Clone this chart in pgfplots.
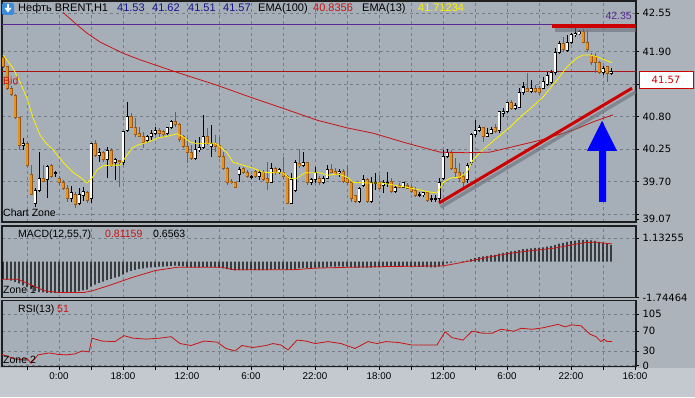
\documentclass[border=0pt]{standalone}
\usepackage{pgfplots}
\pgfplotsset{compat=1.18}
\usepackage{pgfplotstable}
\usepackage{fontspec}
\setmainfont{Liberation Sans}
\newfontfamily\dvs{DejaVu Sans}
\definecolor{chartbg}{RGB}{166,174,183}
\definecolor{outerbg}{RGB}{172,179,187}
\definecolor{botbg}{RGB}{196,201,207}
\definecolor{gridc}{RGB}{116,124,134}
\definecolor{framec}{RGB}{30,30,30}
\definecolor{candleor}{RGB}{228,146,38}
\definecolor{candleorline}{RGB}{150,86,22}
\definecolor{emared}{RGB}{200,20,20}
\definecolor{bidred}{RGB}{170,20,20}
\definecolor{hilinec}{RGB}{90,40,150}
\definecolor{trendred}{RGB}{204,0,0}
\definecolor{navytxt}{RGB}{20,20,140}
\definecolor{shadowc}{RGB}{105,111,120}
\newcommand\lbl{\dvs\fontsize{10}{12}\selectfont}
\newcommand\tlbl{\fontsize{9.8}{11}\selectfont}

\pgfplotstableread[row sep=\\]{
b o h l c\\
-9 40.32 40.44 40.24 40.34\\
-6 39.34 39.59 39.27 39.56\\
-5 39.56 40.20 39.53 39.76\\
-3 39.73 39.98 39.42 39.95\\
-1 39.85 39.88 39.78 39.85\\
3 39.42 39.63 39.36 39.51\\
5 39.34 39.59 39.31 39.48\\
6 39.46 39.61 39.37 39.53\\
8 39.41 40.35 39.34 40.35\\
10 40.15 40.27 40.03 40.20\\
12 40.08 40.29 39.76 40.22\\
14 40.02 40.10 39.73 40.07\\
16 40.02 40.56 39.98 40.54\\
17 40.56 41.05 40.54 40.81\\
22 40.39 40.49 40.35 40.46\\
23 40.47 40.57 40.40 40.52\\
24 40.52 40.62 40.49 40.56\\
27 40.51 40.62 40.49 40.61\\
28 40.61 40.74 40.59 40.71\\
34 40.10 40.40 40.07 40.25\\
35 40.25 40.46 40.20 40.27\\
36 40.27 40.83 40.25 40.46\\
38 40.30 40.66 40.12 40.35\\
45 39.83 39.95 39.69 39.90\\
48 39.78 39.81 39.75 39.78\\
50 39.78 39.90 39.73 39.86\\
53 39.69 40.02 39.68 39.93\\
55 39.85 39.93 39.83 39.90\\
58 39.34 39.85 39.34 39.73\\
59 39.56 40.07 39.53 40.02\\
61 39.98 40.20 39.95 40.02\\
63 39.68 39.76 39.64 39.73\\
64 39.73 39.95 39.68 39.85\\
66 39.68 39.80 39.66 39.76\\
67 39.76 39.98 39.75 39.90\\
70 39.85 39.92 39.78 39.88\\
75 39.36 39.61 39.34 39.59\\
76 39.64 39.81 39.61 39.73\\
78 39.36 39.78 39.34 39.69\\
79 39.68 39.85 39.56 39.68\\
81 39.64 39.73 39.51 39.68\\
82 39.68 39.86 39.61 39.69\\
84 39.53 39.64 39.51 39.61\\
86 39.61 39.69 39.59 39.68\\
90 39.48 39.53 39.44 39.48\\
91 39.48 39.53 39.44 39.51\\
93 39.41 39.48 39.36 39.41\\
94 39.41 39.48 39.36 39.41\\
95 39.41 39.76 39.36 39.69\\
96 39.76 40.24 39.73 40.12\\
97 40.12 40.25 40.10 40.20\\
102 39.73 40.02 39.68 39.98\\
103 40.02 40.52 39.98 40.49\\
104 40.49 40.74 40.46 40.57\\
105 40.56 40.66 40.54 40.61\\
107 40.47 40.61 40.46 40.52\\
108 40.52 40.62 40.51 40.59\\
110 40.57 40.88 40.52 40.88\\
111 40.86 40.94 40.79 40.88\\
112 40.88 41.05 40.86 41.03\\
114 40.94 41.03 40.91 40.98\\
115 40.96 41.28 40.94 41.20\\
116 41.20 41.38 41.16 41.30\\
118 41.23 41.42 41.20 41.28\\
121 41.28 41.47 41.27 41.40\\
122 41.35 41.55 41.32 41.49\\
123 41.38 41.59 41.35 41.55\\
124 41.54 41.96 41.50 41.89\\
125 41.89 42.08 41.86 42.04\\
127 41.91 42.18 41.89 42.06\\
128 42.06 42.21 42.03 42.18\\
129 42.18 42.30 42.14 42.21\\
130 42.21 42.26 42.18 42.23\\
136 41.55 41.65 41.50 41.62\\
138 41.53 41.62 41.51 41.57\\
}\upC

\pgfplotstableread[row sep=\\]{
b o h l c\\
-14 41.79 41.84 41.62 41.64\\
-13 41.64 41.65 41.25 41.28\\
-12 41.28 41.32 41.15 41.18\\
-11 41.16 41.18 40.76 40.78\\
-10 40.78 40.79 40.24 40.32\\
-8 40.35 40.37 39.95 39.98\\
-7 39.83 39.98 39.48 39.49\\
-4 39.76 39.98 39.69 39.71\\
-2 39.97 40.00 39.76 39.78\\
0 39.76 39.80 39.64 39.68\\
1 39.69 39.73 39.56 39.59\\
2 39.59 39.64 39.36 39.41\\
4 39.49 39.53 39.26 39.32\\
7 39.51 39.54 39.34 39.39\\
9 40.35 40.40 40.12 40.15\\
11 40.19 40.22 40.03 40.07\\
13 40.22 40.27 39.95 39.97\\
15 40.05 40.07 39.61 40.02\\
18 40.81 40.86 40.61 40.62\\
19 40.62 40.78 40.46 40.49\\
20 40.51 40.62 40.46 40.47\\
21 40.46 40.54 40.27 40.37\\
25 40.56 40.61 40.46 40.51\\
26 40.54 40.57 40.46 40.49\\
29 40.71 40.88 40.62 40.66\\
30 40.66 40.69 40.37 40.42\\
31 40.46 40.49 40.27 40.30\\
32 40.30 40.44 40.02 40.19\\
33 40.20 40.32 40.07 40.10\\
37 40.46 40.61 40.32 40.35\\
39 40.35 40.49 40.20 40.29\\
40 40.32 40.46 40.10 40.12\\
41 40.12 40.20 39.90 39.92\\
42 39.92 39.95 39.64 39.69\\
43 39.71 39.75 39.66 39.68\\
44 39.68 39.69 39.59 39.61\\
46 39.92 39.95 39.83 39.86\\
47 39.86 39.90 39.76 39.78\\
49 39.88 39.90 39.76 39.78\\
51 39.86 39.90 39.71 39.73\\
52 39.75 40.03 39.56 39.69\\
54 39.93 39.95 39.81 39.85\\
56 39.85 40.12 39.75 39.78\\
57 39.78 39.81 39.34 39.34\\
60 40.00 40.25 39.93 39.98\\
62 40.02 40.03 39.64 39.68\\
65 39.76 39.80 39.64 39.68\\
68 39.90 40.00 39.85 39.86\\
69 39.88 39.93 39.81 39.83\\
71 39.88 39.92 39.68 39.71\\
72 39.75 39.98 39.64 39.68\\
73 39.68 39.73 39.36 39.42\\
74 39.46 39.48 39.34 39.36\\
77 39.73 39.76 39.34 39.36\\
80 39.68 39.81 39.56 39.59\\
83 39.71 39.76 39.51 39.53\\
85 39.64 39.68 39.59 39.61\\
87 39.64 39.68 39.58 39.59\\
88 39.61 39.64 39.51 39.53\\
89 39.56 39.61 39.44 39.46\\
92 39.51 39.53 39.36 39.39\\
98 40.19 40.24 39.90 39.93\\
99 39.93 40.10 39.78 39.85\\
100 39.85 40.02 39.69 39.76\\
101 39.78 39.86 39.61 39.69\\
106 40.61 40.62 40.37 40.47\\
109 40.62 40.67 40.52 40.54\\
113 41.03 41.08 40.91 40.94\\
117 41.28 41.54 41.22 41.23\\
119 41.28 41.33 41.20 41.22\\
120 41.27 41.32 41.16 41.20\\
126 42.04 42.14 41.89 41.94\\
131 42.23 42.28 42.04 42.06\\
132 42.06 42.26 41.89 41.93\\
133 41.84 41.87 41.67 41.72\\
134 41.82 41.87 41.54 41.71\\
135 41.71 41.74 41.52 41.55\\
137 41.64 41.65 41.38 41.52\\
}\dnC

\pgfplotsset{
  panel/.style={
    scale only axis, width=634pt,
    xmin=-14.25, xmax=144.25,
    axis background/.style={fill=chartbg},
    axis line style={draw=framec, line width=1.2pt},
    grid style={draw=gridc, line width=0.5pt, dash pattern=on 3pt off 3pt},
    xtick={-8,0,...,136}, xticklabels={},
    xmajorgrids, ymajorgrids,
    xtick style={draw=none},
    ytick pos=right, yticklabel pos=right,
    tick align=outside, major tick length=3pt,
    ytick style={draw=black, line width=0.6pt},
    yticklabel style={font=\lbl, anchor=west, text=black},
    extra y tick style={grid=none},
  },
}

\begin{document}
\begin{tikzpicture}
\useasboundingbox (0,0) rectangle (695pt,397pt);
\fill[outerbg] (0,0) rectangle (695pt,397pt);
\fill[botbg] (0,0) rectangle (695pt,29pt);

% ---------------- main price panel ----------------
\begin{axis}[panel, at={(2pt,175pt)}, anchor=south west, height=221pt,
  ymin=39.0196, ymax=42.7527,
  ytick={39.15,39.70,40.25,40.80,41.35,41.90,42.55},
  yticklabels={,39.70,40.25,40.80,,41.90,42.55},
  extra y ticks={39.07}, extra y tick labels={39.07},
]
\addplot[draw=hilinec, line width=0.8pt] coordinates {(-14.25,42.35) (144.25,42.35)};
\addplot[draw=bidred, line width=0.8pt] coordinates {(-14.25,41.57) (144.25,41.57)};
% wicks
\addplot[draw=none, error bars/.cd, y dir=both, y explicit, error mark=none,
  error bar style={draw=black, line width=1pt}]
  table[x=b, y expr={(\thisrow{h}+\thisrow{l})/2}, y error expr={(\thisrow{h}-\thisrow{l})/2}] {\upC};
\addplot[draw=none, error bars/.cd, y dir=both, y explicit, error mark=none,
  error bar style={draw=candleorline, line width=1pt}]
  table[x=b, y expr={(\thisrow{h}+\thisrow{l})/2}, y error expr={(\thisrow{h}-\thisrow{l})/2}] {\dnC};
% bodies: outline then fill
\addplot[draw=none, error bars/.cd, y dir=both, y explicit, error mark=none,
  error bar style={draw=black, line width=3pt}]
  table[x=b, y expr={(\thisrow{o}+\thisrow{c})/2}, y error expr={abs(\thisrow{c}-\thisrow{o})/2+0.0085}] {\upC};
\addplot[draw=none, error bars/.cd, y dir=both, y explicit, error mark=none,
  error bar style={draw=white, line width=1.3pt}]
  table[x=b, y expr={(\thisrow{o}+\thisrow{c})/2}, y error expr={max(abs(\thisrow{c}-\thisrow{o})/2-0.0085,0)}] {\upC};
\addplot[draw=none, error bars/.cd, y dir=both, y explicit, error mark=none,
  error bar style={draw=candleorline, line width=3pt}]
  table[x=b, y expr={(\thisrow{o}+\thisrow{c})/2}, y error expr={abs(\thisrow{c}-\thisrow{o})/2+0.0085}] {\dnC};
\addplot[draw=none, error bars/.cd, y dir=both, y explicit, error mark=none,
  error bar style={draw=candleor, line width=1.6pt}]
  table[x=b, y expr={(\thisrow{o}+\thisrow{c})/2}, y error expr={max(abs(\thisrow{c}-\thisrow{o})/2-0.0085,0)}] {\dnC};
% EMA(13)
\addplot[draw=yellow, line width=0.8pt] coordinates {
(-14,41.84) (-11.5,41.62) (-9.75,41.38) (-8,41.11) (-6.5,40.78) (-4.75,40.49) (-3.5,40.37) (-1.5,40.24) (1,40.03) (3.5,39.86) (5.25,39.78) (7,39.68) (8.25,39.76) (9.5,39.90) (11,39.97) (13,39.98) (15.25,39.98) (16.5,40.10) (18.25,40.27) (19.75,40.32) (22.25,40.37) (24.75,40.44) (27.25,40.47) (29.5,40.51) (31,40.46) (32.75,40.37) (34.75,40.34) (36.5,40.35) (39,40.35) (39.75,40.32) (42,40.19) (43.5,40.03) (46,39.98) (48.5,39.93) (51,39.86) (54.5,39.85) (56,39.85) (57.75,39.75) (59.5,39.76) (61.5,39.85) (65.25,39.85) (67.25,39.81) (69.75,39.83) (72,39.78) (73.5,39.69) (76.5,39.68) (80.75,39.68) (84.75,39.63) (89,39.58) (92.25,39.53) (94.5,39.51) (96,39.68) (97.75,39.76) (100.25,39.78) (102,39.86) (103.5,40.07) (106,40.24) (109.5,40.44) (112.75,40.62) (115.25,40.79) (117.75,40.93) (121,41.13) (124.5,41.42) (127,41.64) (129.5,41.79) (131,41.84) (132.75,41.84) (134.5,41.81) (136,41.77) (138.25,41.71)};
% EMA(100)
\addplot[draw=emared, line width=0.8pt] coordinates {
(1,42.56) (4.5,42.35) (7,42.21) (10.25,42.06) (16,41.87) (20.25,41.76) (28.5,41.57) (39.5,41.33) (47.75,41.13) (56,40.94) (64.5,40.74) (72,40.61) (78.5,40.52) (87,40.35) (95.25,40.20) (102,40.19) (107.75,40.20) (115.25,40.32) (120.25,40.40) (128.5,40.57) (133.5,40.71) (138.5,40.83)};
% trend line with shadow
\addplot[draw=shadowc, opacity=0.6, line width=3.5pt] coordinates {(95.4,39.27) (144.25,41.22)};
\addplot[draw=trendred, line width=3pt] coordinates {(95,39.34) (143.25,41.28)};
% resistance line with shadow
\addplot[draw=shadowc, opacity=0.6, line width=4pt] coordinates {(124,42.26) (144.25,42.26)};
\addplot[draw=trendred, line width=4pt] coordinates {(123.25,42.33) (144.25,42.33)};
% blue arrow
\addplot[fill=blue, draw=none] coordinates {(135,39.36) (135,40.22) (132,40.22) (135.75,40.73) (139.5,40.22) (136.75,40.22) (136.75,39.36)};
\end{axis}

% ---------------- MACD panel ----------------
\begin{axis}[panel, at={(2pt,99.5pt)}, anchor=south west, height=71.5pt,
  ymin=-1.74464, ymax=1.726,
  ytick={1.13255}, yticklabels={1.13255},
  extra y ticks={-1.74464}, extra y tick labels={-1.74464},
]
\addplot[ybar, bar width=1.2pt, fill=black, draw=none] coordinates {
(-14,-0.85) (-13,-0.88) (-12,-0.92) (-11,-0.98) (-10,-1.06) (-9,-1.15) (-8,-1.24) (-7,-1.34) (-6,-1.43) (-5,-1.48) (-4,-1.50) (-3,-1.52) (-2,-1.52) (-1,-1.52) (0,-1.51) (1,-1.50) (2,-1.50) (3,-1.48) (4,-1.47) (5,-1.44) (6,-1.40) (7,-1.36) (8,-1.22) (9,-1.12) (10,-1.04) (11,-0.97) (12,-0.90) (13,-0.84) (14,-0.78) (15,-0.73) (16,-0.64) (17,-0.52) (18,-0.45) (19,-0.40) (20,-0.36) (21,-0.33) (22,-0.30) (23,-0.28) (24,-0.26) (25,-0.25) (26,-0.24) (27,-0.23) (28,-0.21) (29,-0.20) (30,-0.21) (31,-0.23) (32,-0.26) (33,-0.28) (34,-0.28) (35,-0.28) (36,-0.26) (37,-0.26) (38,-0.27) (39,-0.28) (40,-0.30) (41,-0.33) (42,-0.37) (43,-0.40) (44,-0.43) (45,-0.42) (46,-0.42) (47,-0.42) (48,-0.42) (49,-0.41) (50,-0.41) (51,-0.41) (52,-0.41) (53,-0.39) (54,-0.38) (55,-0.37) (56,-0.37) (57,-0.40) (58,-0.40) (59,-0.36) (60,-0.33) (61,-0.31) (62,-0.31) (63,-0.31) (64,-0.30) (65,-0.30) (66,-0.29) (67,-0.27) (68,-0.25) (69,-0.24) (70,-0.23) (71,-0.24) (72,-0.25) (73,-0.28) (74,-0.30) (75,-0.30) (76,-0.29) (77,-0.30) (78,-0.29) (79,-0.28) (80,-0.27) (81,-0.26) (82,-0.25) (83,-0.25) (84,-0.25) (85,-0.24) (86,-0.24) (87,-0.24) (88,-0.24) (89,-0.25) (90,-0.26) (91,-0.26) (92,-0.27) (93,-0.28) (94,-0.28) (95,-0.24) (96,-0.16) (97,-0.09) (98,-0.05) (99,-0.02) (100,0.00) (101,0.02) (102,0.05) (103,0.12) (104,0.18) (105,0.22) (106,0.25) (107,0.28) (108,0.31) (109,0.33) (110,0.38) (111,0.42) (112,0.46) (113,0.49) (114,0.52) (115,0.56) (116,0.60) (117,0.62) (118,0.64) (119,0.66) (120,0.67) (121,0.69) (122,0.72) (123,0.75) (124,0.81) (125,0.87) (126,0.91) (127,0.95) (128,0.99) (129,1.02) (130,1.04) (131,1.05) (132,1.05) (133,1.03) (134,1.00) (135,0.96) (136,0.92) (137,0.87) (138,0.81)};
\addplot[draw=emared, line width=0.8pt] coordinates {
(-14.2,-0.86) (-10.3,-0.86) (-7,-1.13) (-3.7,-1.41) (-0.3,-1.50) (6.3,-1.50) (8.5,-1.41) (13,-1.13) (18.5,-0.76) (24,-0.44) (29.5,-0.28) (40.7,-0.28) (44,-0.40) (58.4,-0.40) (64,-0.32) (71.7,-0.28) (82.8,-0.24) (96,-0.21) (98.3,-0.13) (102.7,0.03) (107.2,0.21) (112.7,0.40) (118.2,0.53) (123.8,0.65) (128.2,0.81) (131.5,0.92) (134.3,0.94) (136.5,0.89) (138.2,0.86)};
\end{axis}

% ---------------- RSI panel ----------------
\begin{axis}[panel, at={(2pt,30.5pt)}, anchor=south west, height=66pt,
  ymin=-1.6, ymax=132.4,
  ytick={0,30,70,105}, yticklabels={0,30,70,105},
  xtick={0,16,...,144},
  xticklabels={0:00,18:00,12:00,6:00,22:00,18:00,12:00,6:00,22:00,16:00},
  minor xtick={-8,8,...,136}, xminorgrids,
  minor grid style={draw=gridc, line width=0.5pt, dash pattern=on 3pt off 3pt},
  xtick pos=bottom,
  xtick style={draw=black, line width=0.6pt},
  minor tick length=3pt,
  xticklabel style={font=\tlbl, text=black, anchor=base, yshift=-10pt},
]
\addplot[draw=emared, line width=0.8pt] coordinates {
(-14.25,23) (-12.5,18) (-10.25,12) (-8,15) (-7,5) (-5.25,22) (-2.5,26) (-0.25,23) (1.75,22) (4,24) (5.75,30) (7.5,28) (8.25,56) (10.75,50) (14,49) (16.25,61) (18.5,56) (21.75,54) (25.25,56) (28,59) (30.25,45) (33,41) (36.25,50) (39.5,48) (41.75,35) (44,30) (45.75,41) (48.5,37) (51.75,41) (53.5,45) (55.5,42) (57.25,32) (59.5,52) (61.75,50) (64,45) (67.25,49) (70.5,45) (74,35) (77.25,49) (79.5,45) (81.75,49) (85,47) (88.25,42) (91.75,42) (94.5,42) (96.5,69) (98.25,57) (101,52) (103.25,70) (106,66) (108.25,66) (110.5,74) (113.75,70) (115.5,76) (118.25,74) (121,77) (124.75,84) (126.5,79) (128.25,83) (130.5,81) (132.75,64) (134.25,59) (135.5,49) (136.25,54) (137,49) (138.25,49)};
\end{axis}

% ---------------- texts ----------------
\fill[rounded corners=1.5pt, fill={rgb,255:red,60;green,140;blue,220}] (2pt,382pt) rectangle (14pt,394pt);
\fill[white] (4.5pt,389pt) -- (11.5pt,389pt) -- (8pt,384.5pt) -- cycle;
\fill[white] (6.8pt,389pt) rectangle (9.2pt,392.5pt);
\begin{scope}[every node/.style={inner sep=0pt, anchor=base west}]
\node at (18pt,385.5pt) {\fontsize{11}{13}\selectfont Нефть BRENT,H1};
\node[text=navytxt] at (117pt,385.5pt) {\fontsize{11}{13}\selectfont 41.53};
\node[text=navytxt] at (152pt,385.5pt) {\fontsize{11}{13}\selectfont 41.62};
\node[text=navytxt] at (188pt,385.5pt) {\fontsize{11}{13}\selectfont 41.51};
\node[text=navytxt] at (223pt,385.5pt) {\fontsize{11}{13}\selectfont 41.57};
\node at (258pt,385.5pt) {\fontsize{11}{13}\selectfont EMA(100)};
\node[text=emared] at (313pt,385.5pt) {\fontsize{11}{13}\selectfont 40.8356};
\node at (362pt,385.5pt) {\fontsize{11}{13}\selectfont EMA(13)};
\node[text=yellow] at (418pt,385.5pt) {\fontsize{11}{13}\selectfont 41.71234};
\node[text=emared] at (3pt,312pt) {\fontsize{10.5}{12}\selectfont Bid};
\node at (3pt,181pt) {\fontsize{10.5}{12}\selectfont Chart Zone};
\node[text=hilinec, anchor=base east] at (632pt,377pt) {\fontsize{10.5}{12}\selectfont 42.35};
\node at (18pt,160pt) {\fontsize{10.5}{12}\selectfont MACD(12,55,7)};
\node[text=emared] at (105pt,160pt) {\fontsize{10.5}{12}\selectfont 0.81159};
\node at (153pt,160pt) {\fontsize{10.5}{12}\selectfont 0.6563};
\node at (3pt,104pt) {\fontsize{10.5}{12}\selectfont Zone 1};
\node at (18pt,85pt) {\fontsize{10.5}{12}\selectfont RSI(13)};
\node[text=emared] at (57pt,85pt) {\fontsize{10.5}{12}\selectfont 51};
\node at (3pt,34pt) {\fontsize{10.5}{12}\selectfont Zone 2};
\end{scope}
\fill[white, draw=trendred, line width=0.8pt] (639pt,309pt) rectangle (693pt,326pt);
\node[text=trendred, inner sep=0pt, anchor=base] at (666pt,313.5pt) {\dvs\fontsize{10}{12}\selectfont 41.57};
\end{tikzpicture}
\end{document}
